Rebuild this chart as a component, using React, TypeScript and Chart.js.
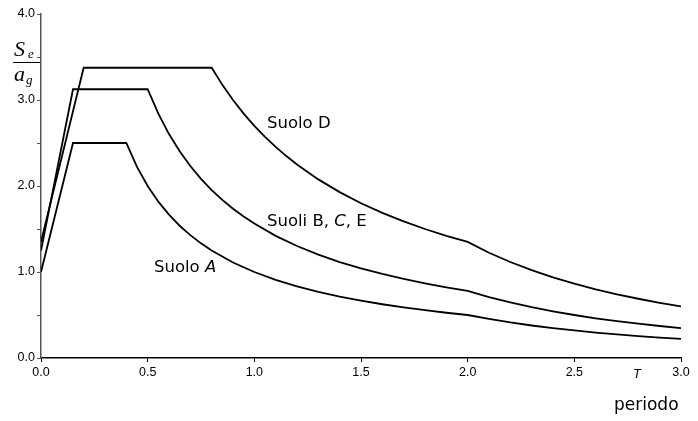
import { useEffect, useRef } from 'react';
import { Chart, registerables } from 'chart.js';
Chart.register(...registerables);

// Periodo T (s) and normalized spectral acceleration Se/ag for each soil class
const periodA = [0, 0.15, 0.4, 0.45, 0.5, 0.55, 0.6, 0.65, 0.7, 0.75, 0.8, 0.9, 1.0, 1.1, 1.2, 1.3, 1.4, 1.5, 1.6, 1.7, 1.8, 1.9, 2.0, 2.1, 2.2, 2.3, 2.4, 2.5, 2.6, 2.7, 2.8, 2.9, 3.0];
const suoloA = [1.0, 2.5, 2.5, 2.222, 2.0, 1.818, 1.667, 1.538, 1.429, 1.333, 1.25, 1.111, 1.0, 0.909, 0.833, 0.769, 0.714, 0.667, 0.625, 0.588, 0.556, 0.526, 0.5, 0.454, 0.413, 0.378, 0.347, 0.32, 0.296, 0.274, 0.255, 0.238, 0.222];

const periodBCE = [0, 0.15, 0.5, 0.55, 0.6, 0.65, 0.7, 0.75, 0.8, 0.85, 0.9, 0.95, 1.0, 1.1, 1.2, 1.3, 1.4, 1.5, 1.6, 1.7, 1.8, 1.9, 2.0, 2.1, 2.2, 2.3, 2.4, 2.5, 2.6, 2.7, 2.8, 2.9, 3.0];
const suoliBCE = [1.25, 3.125, 3.125, 2.841, 2.604, 2.404, 2.232, 2.083, 1.953, 1.838, 1.736, 1.645, 1.563, 1.42, 1.302, 1.202, 1.116, 1.042, 0.977, 0.919, 0.868, 0.822, 0.781, 0.709, 0.646, 0.591, 0.543, 0.5, 0.462, 0.429, 0.399, 0.372, 0.347];

const periodD = [0, 0.2, 0.8, 0.85, 0.9, 0.95, 1.0, 1.05, 1.1, 1.15, 1.2, 1.3, 1.4, 1.5, 1.6, 1.7, 1.8, 1.9, 2.0, 2.1, 2.2, 2.3, 2.4, 2.5, 2.6, 2.7, 2.8, 2.9, 3.0];
const suoloD = [1.35, 3.375, 3.375, 3.176, 3.0, 2.842, 2.7, 2.571, 2.455, 2.348, 2.25, 2.077, 1.929, 1.8, 1.688, 1.588, 1.5, 1.421, 1.35, 1.224, 1.116, 1.021, 0.9375, 0.864, 0.799, 0.741, 0.689, 0.642, 0.6];

const xMin = 0;
const xMax = 3;
const xStep = 0.5;
const yMin = 0;
const yMax = 4;
const yStep = 0.5;

const toPoints = (xs: number[], ys: number[]) => xs.map((x, i) => ({ x, y: ys[i] }));

const labelFont = '"DejaVu Sans", sans-serif';

function drawParts(ctx: CanvasRenderingContext2D, parts: [string, boolean][], x: number, y: number, size: number) {
  let cx = x;
  for (const [t, it] of parts) {
    ctx.font = `${it ? 'italic ' : ''}${size}px ${labelFont}`;
    ctx.fillText(t, cx, y);
    cx += ctx.measureText(t).width;
  }
}

const annotations = {
  id: 'annotations',
  afterDraw(chart: any) {
    const ctx = chart.ctx as CanvasRenderingContext2D;
    ctx.save();
    ctx.fillStyle = '#000';
    ctx.textBaseline = 'middle';
    ctx.textAlign = 'left';
    drawParts(ctx, [['Suolo D', false]], 267, 124, 16.5);
    drawParts(ctx, [['Suoli B, ', false], ['C', true], [', E', false]], 267, 222, 16.5);
    drawParts(ctx, [['Suolo ', false], ['A', true]], 154, 268, 16.5);
    drawParts(ctx, [['periodo', false]], 614, 406, 17);
    // T label
    ctx.font = 'italic 13px "Liberation Sans", Arial, sans-serif';
    ctx.textAlign = 'center';
    ctx.fillText('T', 637, 374);
    // Se / ag
    ctx.textAlign = 'left';
    ctx.textBaseline = 'alphabetic';
    ctx.font = 'italic 22px "Liberation Serif", serif';
    ctx.fillText('S', 14, 56);
    ctx.font = 'italic 13px "Liberation Serif", serif';
    ctx.fillText('e', 28, 58);
    ctx.beginPath();
    ctx.moveTo(13, 62.5);
    ctx.lineTo(40, 62.5);
    ctx.lineWidth = 1;
    ctx.strokeStyle = '#000';
    ctx.stroke();
    ctx.font = 'italic 22px "Liberation Serif", serif';
    ctx.fillText('a', 14, 81);
    ctx.font = 'italic 13px "Liberation Serif", serif';
    ctx.fillText('g', 26, 84);
    ctx.restore();
  },
};

export default function App() {
  const ref = useRef<HTMLCanvasElement>(null);
  useEffect(() => {
    document.body.style.margin = '0';
    const lineStyle = { borderColor: '#000', borderWidth: 1.8, pointRadius: 0, fill: false, tension: 0 };
    const chart = new Chart(ref.current!, {
      type: 'line',
      data: {
        datasets: [
          { label: 'Suolo A', data: toPoints(periodA, suoloA), ...lineStyle },
          { label: 'Suoli B, C, E', data: toPoints(periodBCE, suoliBCE), ...lineStyle },
          { label: 'Suolo D', data: toPoints(periodD, suoloD), ...lineStyle },
        ],
      },
      options: {
        animation: false,
        responsive: true,
        maintainAspectRatio: false,
        layout: { padding: { top: 14, right: 17, left: 0, bottom: 0 } },
        plugins: { legend: { display: false }, tooltip: { enabled: false } },
        scales: {
          x: {
            type: 'linear',
            min: xMin,
            max: xMax,
            ticks: {
              stepSize: xStep,
              color: '#000',
              padding: 3,
              font: { family: '"Liberation Sans", Arial, sans-serif', size: 12.5 },
              callback: (v: any) => Number(v).toFixed(1),
            },
            grid: { drawOnChartArea: false, drawTicks: true, tickLength: 4, color: '#000' },
            border: { color: '#000', width: 1.5 },
            afterFit: (s: any) => { s.height = 63; },
          },
          y: {
            min: yMin,
            max: yMax,
            ticks: {
              stepSize: yStep,
              color: '#000',
              padding: 2,
              font: { family: '"Liberation Sans", Arial, sans-serif', size: 12.5 },
              callback: (v: any) => (Number.isInteger(Number(v)) ? Number(v).toFixed(1) : ''),
            },
            grid: { drawOnChartArea: false, drawTicks: true, tickLength: 4, color: '#555' },
            border: { color: '#555', width: 1.5 },
            afterFit: (s: any) => { s.width = 41; },
          },
        },
      },
      plugins: [annotations],
    });
    return () => chart.destroy();
  }, []);
  return (
    <div style={{ position: 'fixed', left: 0, top: 0, width: 698, height: 421, background: '#fff' }}>
      <canvas ref={ref} />
    </div>
  );
}
